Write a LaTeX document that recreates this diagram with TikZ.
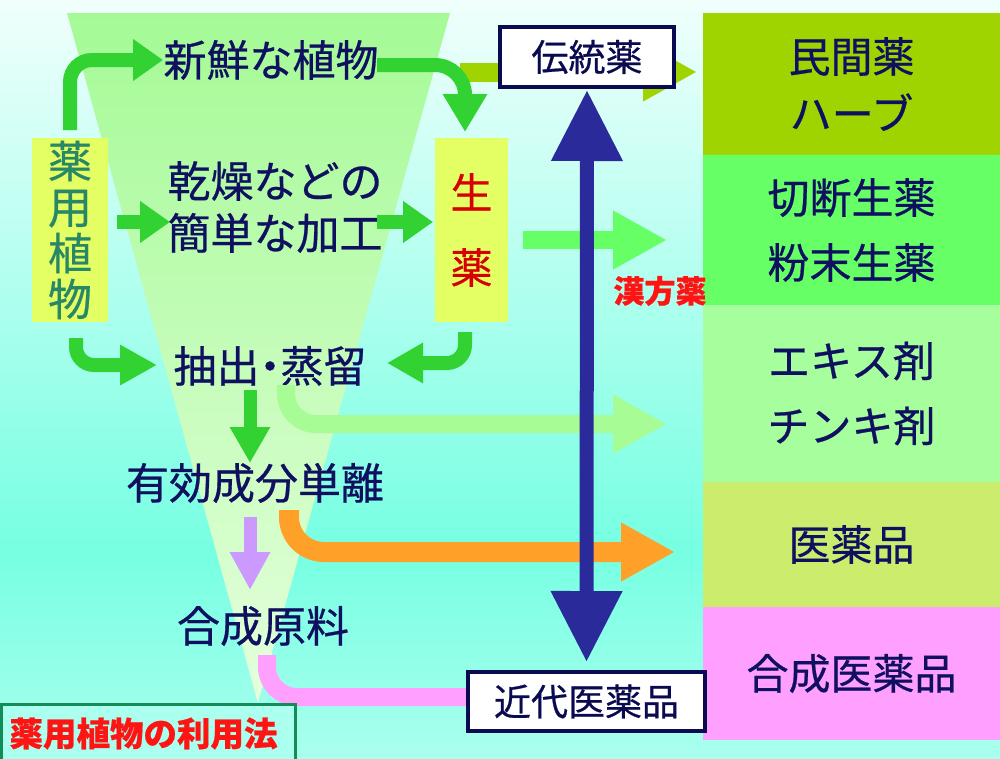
\documentclass[tikz,border=0pt]{standalone}
\usepackage{fontspec}
\setmainfont{Noto Sans CJK JP}[FakeBold=0.6]
\usepackage{tikz}
\usetikzlibrary{arrows.meta,positioning}
\definecolor{bgtop}{RGB}{240,255,252}
\definecolor{bgmid}{RGB}{118,255,226}
\definecolor{bgbot}{RGB}{170,255,238}
\definecolor{funtop}{RGB}{165,250,150}
\definecolor{funbot}{RGB}{228,255,220}
\definecolor{inkcolor}{RGB}{16,16,96}
\definecolor{bandA}{RGB}{160,212,0}
\definecolor{bandB}{RGB}{102,255,102}
\definecolor{bandC}{RGB}{166,255,156}
\definecolor{bandD}{RGB}{204,236,110}
\definecolor{bandE}{RGB}{255,160,255}
\definecolor{plantfill}{RGB}{228,255,100}
\definecolor{planttext}{RGB}{40,135,100}
\definecolor{crudered}{RGB}{215,0,0}
\definecolor{arrgreen}{RGB}{50,210,50}
\definecolor{arrpale}{RGB}{168,252,150}
\definecolor{arrorange}{RGB}{255,160,40}
\definecolor{arrviolet}{RGB}{204,153,255}
\definecolor{arrpink}{RGB}{255,160,255}
\definecolor{navy}{RGB}{42,42,155}
\definecolor{boxborder}{RGB}{10,10,80}
\definecolor{titlegreen}{RGB}{20,140,90}
\definecolor{kampored}{RGB}{255,20,20}

\begin{document}
\begin{tikzpicture}[x=1pt, y=-1pt, node distance=0pt,
    every node/.style={inner sep=0pt, outer sep=0pt},
    word/.style={text=inkcolor, font=\fontsize{43}{52}\selectfont, align=center},
    band/.style={minimum width=297pt, text=inkcolor, font=\fontsize{42}{65}\selectfont, align=center, anchor=north},
    tagbox/.style={draw=boxborder, line width=4pt, fill=white, text=boxborder, font=\fontsize{37}{40}\selectfont},
    pipe/.style={line width=14pt, draw=arrgreen, -{Triangle[width=40pt,length=30pt]}},
    widepipe/.style={line width=19pt, -{Triangle[width=55pt,length=54pt]}}]
    \useasboundingbox (0,0) rectangle (1000,758);
    \shade[top color=bgtop, bottom color=bgmid] (0,0) rectangle (1000,550);
    \shade[top color=bgmid, bottom color=bgbot] (0,549) rectangle (1000,758);
    % funnel
    \shade[top color=funtop, bottom color=funbot] (67,13) -- (450,13) -- (258,703) -- cycle;

    \node[band, fill=bandA, minimum height=142pt, font=\fontsize{42}{57}\selectfont] (B1) at (851.5,13) {民間薬\\ハーブ};
    \node[band, fill=bandB, minimum height=150pt, below=of B1] (B2) {切断生薬\\粉末生薬};
    \node[band, fill=bandC, minimum height=177pt, below=of B2] (B3) {エキス剤\\チンキ剤};
    \node[band, fill=bandD, minimum height=125pt, below=of B3] (B4) {医薬品};
    \node[band, fill=bandE, minimum height=133pt, below=of B4] (B5) {合成医薬品};

    \node[fill=plantfill, minimum width=76pt, minimum height=184pt, text=planttext, align=center, font=\fontsize{44}{46}\selectfont] (Plant) at (70,230) {薬\\用\\植\\物};
    \node[fill=plantfill, minimum width=73pt, minimum height=184pt, text=crudered, align=center, font=\fontsize{42}{75}\selectfont] (Crude) at (471.5,230) {生\\薬};
    \node[word] (Fresh) at (271,60) {新鮮な植物};
    \node[word] (Dry) at (275,207) {乾燥などの\\簡単な加工};
    \node[word] (Extract) at (270,366) {抽出\kern-11pt・\kern-11pt蒸留};
    \node[word] (Isol) at (255,483) {有効成分単離};
    \node[word] (Synth) at (263,626) {合成原料};

    \coordinate (OlvA) at (460,72);
    \coordinate (OlvB) at (697,72);
    \coordinate (PaleA) at (286,385);
    \coordinate (PaleB) at (667,424);
    \coordinate (OrgA) at (289,510);
    \coordinate (OrgB) at (675,552);
    \coordinate (PinkA) at (267,655);
    \coordinate (CutA) at (523,240);
    \coordinate (CutB) at (667,240);

    \draw[widepipe, draw=bandB, line width=18pt] (CutA) -- (CutB);
    \draw[widepipe, draw=arrpale, line width=18pt, rounded corners=30pt] (PaleA) |- (PaleB);
    \draw[widepipe, draw=arrorange, line width=20pt, rounded corners=35pt] (OrgA) |- (OrgB);
    \draw[arrpink, line width=18pt, rounded corners=30pt] (PinkA) |- (584,697);
    \draw[widepipe, draw=bandA] (OlvA) -- (OlvB);

    \draw[pipe, rounded corners=22pt] (70,130) |- (163,60);
    \draw[pipe, rounded corners=30pt, -{Triangle[width=42pt,length=38pt]}] (377,65) -| (465,132);
    \draw[pipe] (117,222) -- (170,222);
    \draw[pipe] (377,222) -- (433,222);
    \draw[pipe, rounded corners=18pt, -{Triangle[width=38pt,length=37pt]}] (76,338) |- (157,365);
    \draw[pipe, rounded corners=18pt, -{Triangle[width=38pt,length=36pt]}] (465,332) |- (387,363);
    \draw[pipe, line width=13pt, -{Triangle[width=38pt,length=36pt]}] (250,390) -- (250,463);
    \draw[pipe, draw=arrviolet, line width=13pt, -{Triangle[width=38pt,length=38pt]}] (250,517) -- (250,590);

    \node[tagbox, minimum width=174pt, minimum height=60pt] (Trad) at (587,57) {伝統薬};
    \node[tagbox, minimum width=237pt, minimum height=59pt] (Modern) at (586.5,701.5) {近代医薬品};
    \draw[navy, line width=14pt, {Triangle[width=68pt,length=71pt]}-{Triangle[width=68pt,length=71pt]}, shorten <=3pt, shorten >=10pt] (Trad.south) -- (Modern.north);

    \node[text=kampored, font=\bfseries\fontsize{31}{34}\selectfont] (Kampo) at (660,291) {漢方薬};
    \node[draw=titlegreen, line width=3pt, fill=bgbot, minimum width=294pt, minimum height=58pt, anchor=north west, text=kampored, font=\bfseries\fontsize{33.5}{36}\selectfont] (Title) at (1.5,704.5) {\hspace*{-10pt}薬用植物の利用法};
\end{tikzpicture}
\end{document}
